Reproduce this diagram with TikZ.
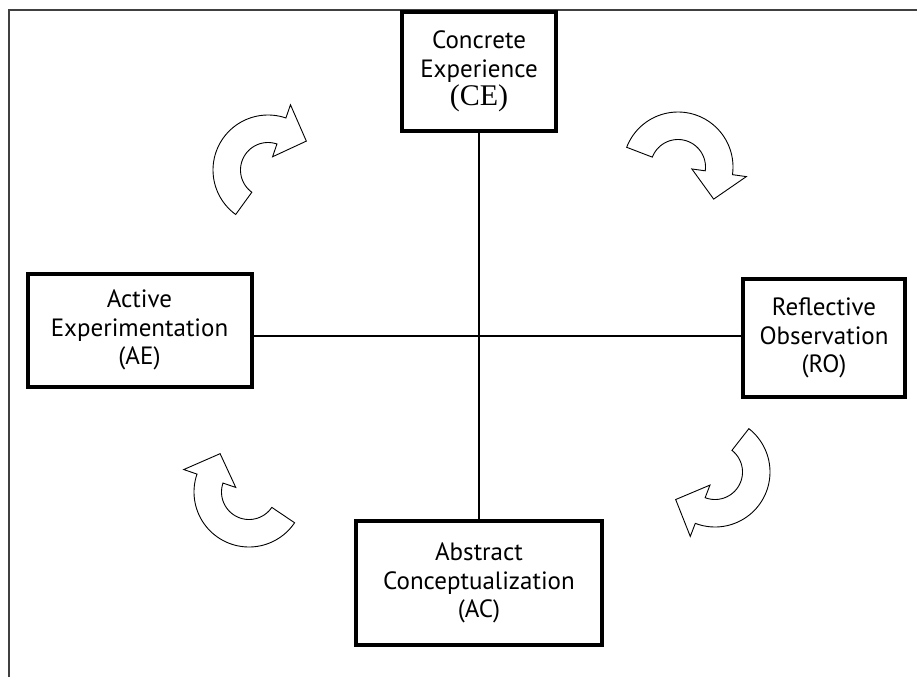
\documentclass[tikz,border=0pt]{standalone}
\usepackage{fontspec}
\setmainfont{PT Sans}
\newfontfamily\parenserif{Liberation Serif}
\newcommand\cycarrow[4]{%
  \draw[cycstyle]
    plot[domain=#3:#4, samples=50] ({#1+55*cos(\x)},{#2-55*sin(\x)})
    -- ({#1+69*cos(#4)},{#2-69*sin(#4)})
    -- ({#1+48*cos(#4-34)},{#2-48*sin(#4-34)})
    -- ({#1+14*cos(#4)},{#2-14*sin(#4)})
    -- plot[domain=#4:#3, samples=50] ({#1+27.5*cos(\x)},{#2-27.5*sin(\x)})
    -- cycle;}
\begin{document}
\begin{tikzpicture}[x=1pt,y=-1pt,
  framestyle/.style={line width=1.5pt, draw=black!75},
  stagebox/.style={draw, line width=4pt, fill=white, align=center,
    font=\fontsize{25}{28.5}\selectfont, inner sep=2pt},
  linkline/.style={line width=2.5pt},
  cycstyle/.style={line width=0.9pt, fill=white, line join=miter}]
\useasboundingbox (0,0) rectangle (917,677);
% frame
\draw[framestyle] (9,677) -- (9,10) -- (917,10);
% boxes
\node[stagebox, minimum width=154pt, minimum height=119pt] (CE) at (479,71.5)
  {Concrete\\Experience\\{\parenserif\fontsize{30}{30}\selectfont (CE)}};
\node[stagebox, minimum width=224pt, minimum height=113pt] (AE) at (139.5,330)
  {Active\\Experimentation\\(AE)};
\node[stagebox, minimum width=162pt, minimum height=118pt] (RO) at (824,338)
  {Reflective\\Observation\\(RO)};
\node[stagebox, minimum width=246pt, minimum height=124pt] (AC) at (479,583)
  {Abstract\\Conceptualization\\(AC)};
% axes
\draw[linkline] (CE.south) -- (AC.north);
\draw[linkline] (RO.west |- 0,336) coordinate (rw) -- (rw -| AE.east);
% cycle arrows
\cycarrow{268}{170}{234}{71}
\cycarrow{678}{167}{159}{-8}
\cycarrow{715}{472}{52}{-111}
\cycarrow{249}{492}{-34}{-199}
\end{tikzpicture}
\end{document}
